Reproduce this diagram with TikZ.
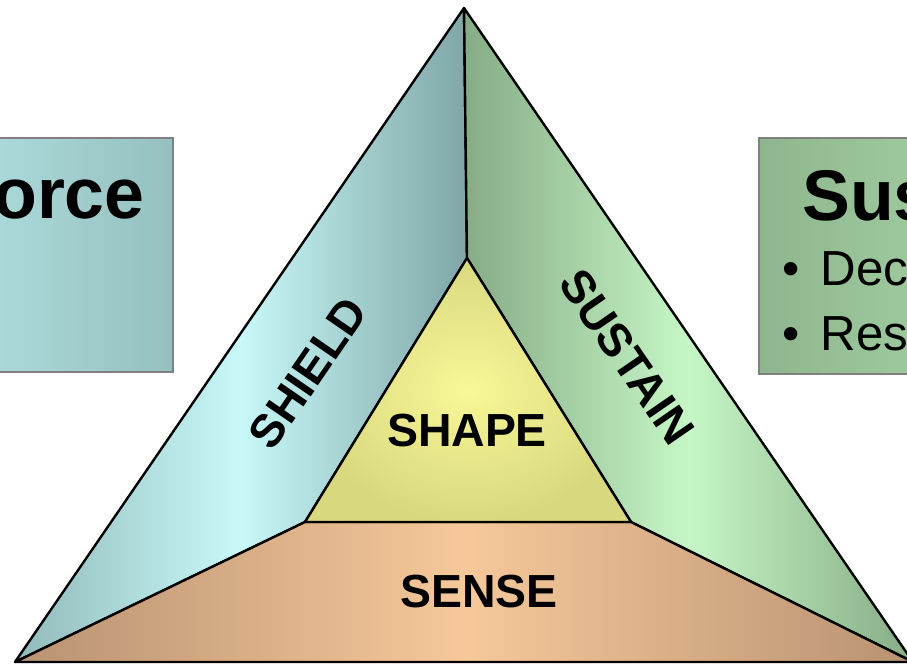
\documentclass[tikz,border=0pt]{standalone}
\usepackage{fontspec}
\setmainfont{Liberation Sans}
\usetikzlibrary{positioning,calc}

\definecolor{shieldLight}{HTML}{C8F8F8}
\definecolor{shieldDark}{HTML}{80A6A6}
\definecolor{shieldEdge}{HTML}{92BABA}
\definecolor{sustainLight}{HTML}{C6F6C6}
\definecolor{sustainDark}{HTML}{86AC86}
\definecolor{senseLight}{HTML}{F6C89A}
\definecolor{senseDark}{HTML}{B89272}
\definecolor{shapeLight}{HTML}{F8F898}
\definecolor{shapeDark}{HTML}{D8D87E}
\definecolor{forceLight}{HTML}{B8E8E8}
\definecolor{forceDark}{HTML}{96C0C0}
\definecolor{sustLight}{HTML}{AAD8AA}
\definecolor{sustDark}{HTML}{8EB68E}

\begin{document}
\begin{tikzpicture}[
  x=0.025cm, y=-0.025cm,
  every node/.style={align=center, inner sep=0pt},
  face/.style={draw=black, line width=1.7pt, line join=round},
  panel/.style={draw=black!50, line width=1.2pt},
  word/.style={font=\fontsize{33}{33}\selectfont\bfseries},
  title/.style={font=\fontsize{51}{51}\selectfont\bfseries},
  item/.style={font=\fontsize{35}{35}\selectfont}
]
\useasboundingbox (0,0) rectangle (907,664);
\clip (0,0) rectangle (907,664);

% --- Side boxes ---
\shadedraw[panel, left color=forceLight, right color=forceDark] (-120,138) rectangle (173,372);
\shadedraw[panel, left color=sustDark, right color=sustLight] (759,138) rectangle (1040,374);

\node[title, anchor=base east] (forceT) at (145,218) {orce};
\node[title, anchor=base west] (sustT) at (802,220) {Sus};
\node[item, anchor=base west] (decT) at (782,285) {\textbullet\hspace{15pt}Dec};
\node[item, anchor=base west] (resT) at (782,350) {\textbullet\hspace{15pt}Res};

% --- Corners of the triangle ---
\coordinate (apex) at (464,8);
\coordinate (outL) at (15,662);
\coordinate (outR) at (913,662);
\coordinate (inT)  at (467,258);
\coordinate (inL)  at (305,522);
\coordinate (inR)  at (631,522);

% --- Faces (middle color last, else it is reset) ---
\shadedraw[face, left color=shieldEdge, right color=shieldDark, middle color=shieldLight]
  (apex) -- (inT) -- (inL) -- (outL) -- cycle;
\shadedraw[face, left color=sustainDark, right color=sustainDark, middle color=sustainLight]
  (apex) -- (outR) -- (inR) -- (inT) -- cycle;
\shadedraw[face, left color=senseDark, right color=senseDark, middle color=senseLight]
  (inL) -- (inR) -- (outR) -- (outL) -- cycle;
\shadedraw[face, inner color=shapeLight, outer color=shapeDark]
  (inT) -- (inR) -- (inL) -- cycle;

% --- Labels ---
\node[word, rotate=55.5]  (shield)  at (308,373) {SHIELD};
\node[word, rotate=-55.5] (sustain) at (627,357) {SUSTAIN};
\node[word] (shape) at (467,431) {SHAPE};
\node[word] (sense) at (479,592) {SENSE};

\end{tikzpicture}
\end{document}
